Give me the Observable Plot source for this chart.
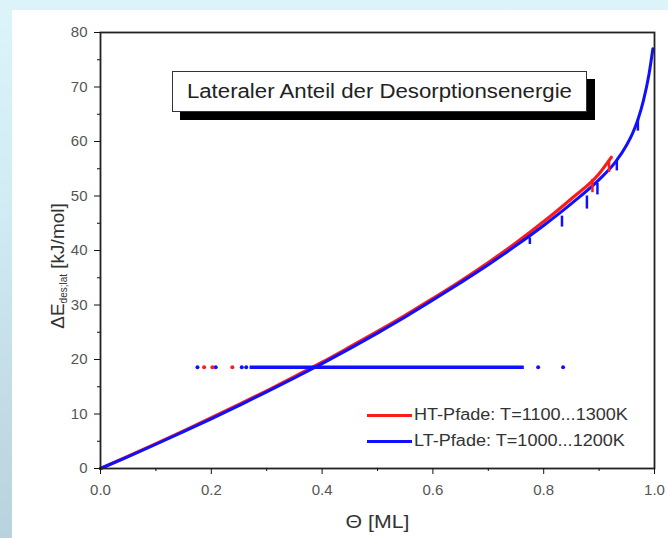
<!DOCTYPE html>
<html><head><meta charset="utf-8">
<script src="https://cdn.jsdelivr.net/npm/d3@7"></script>
<script src="https://cdn.jsdelivr.net/npm/@observablehq/plot@0.6"></script>
<style>
html,body{margin:0;padding:0;}
body{width:668px;height:538px;overflow:hidden;position:relative;
  background:linear-gradient(to bottom,#dcf4fa 0%,#d0ebf3 40%,#c2dbe5 75%,#b9d3de 100%);
  font-family:"Liberation Sans",Arial,Helvetica,sans-serif;}
#panel{position:absolute;left:12px;top:10px;width:656px;height:528px;background:#fff;}
#chart{position:absolute;left:0;top:0;}
#chart svg text{font-size:15px;}
.ov{position:absolute;white-space:nowrap;}
#title{left:172px;top:71px;width:415px;height:41px;box-sizing:border-box;border:1.5px solid #333;background:#fff;
  box-shadow:8px 8px 0 #000;text-align:center;line-height:38px;font-size:20px;color:#222;}
#title span{display:inline-block;transform:scaleX(1.11);}
.leg{left:367px;height:20px;display:flex;align-items:center;font-size:16px;color:#333;}
.leg .sw{width:45px;height:3px;margin-right:2px;}
.leg .tx{display:inline-block;transform:scaleX(1.13);transform-origin:left center;}
#ylab{left:-42px;top:254px;width:200px;height:24px;line-height:24px;text-align:center;font-size:19px;color:#333;transform:rotate(-90deg);}
#ylab sub{font-size:10px;vertical-align:-3px;}
#xlab{left:278px;top:510px;width:200px;text-align:center;font-size:19px;color:#333;line-height:24px;}
#xlab span{display:inline-block;transform:scaleX(1.12);}
</style></head>
<body>
<div id="panel"><div id="chart"></div></div>
<div class="ov" id="title"><span>Lateraler Anteil der Desorptionsenergie</span></div>
<div class="ov leg" style="top:405px"><div class="sw" style="background:#ff1a1a"></div><span class="tx">HT-Pfade: T=1100...1300K</span></div>
<div class="ov leg" style="top:431px"><div class="sw" style="background:#1010ff"></div><span class="tx">LT-Pfade: T=1000...1200K</span></div>
<div class="ov" id="ylab">ΔE<sub>des;lat</sub> [kJ/mol]</div>
<div class="ov" id="xlab"><span>Θ [ML]</span></div>
<script>
// HT paths (red)
const htTheta = [0, 0.05, 0.1, 0.15, 0.2, 0.25, 0.3, 0.35, 0.4, 0.45, 0.5, 0.55, 0.6, 0.65, 0.7, 0.75, 0.8, 0.85, 0.9, 0.922];
const htE     = [0, 2.25, 4.55, 6.9, 9.3, 11.75, 14.25, 16.85, 19.5, 22.3, 25.15, 28.1, 31.2, 34.4, 37.8, 41.4, 45.3, 49.5, 54.1, 57.1];
// LT paths (blue)
const ltTheta = [0, 0.05, 0.1, 0.15, 0.2, 0.25, 0.3, 0.35, 0.4, 0.45, 0.5, 0.55, 0.6, 0.65, 0.7, 0.75, 0.8, 0.85, 0.9, 0.93, 0.95, 0.96, 0.97, 0.98, 0.99, 0.997];
const ltE     = [0, 2.2, 4.45, 6.75, 9.1, 11.55, 14.05, 16.6, 19.25, 22.0, 24.85, 27.8, 30.9, 34.1, 37.4, 40.9, 44.6, 48.6, 53.0, 56.3, 59.4, 61.4, 64.0, 67.5, 72.3, 77.0];
// plateau
const plateauE = 18.6;
const ltPlateauStart = 0.27, ltPlateauEnd = 0.765;
const ltDotTheta = [0.175, 0.208, 0.255, 0.263, 0.79, 0.835];
const htDotTheta = [0.187, 0.202, 0.238];
// small spurs along curves
const ltHookTheta = [0.775, 0.833, 0.878, 0.897, 0.932, 0.97];
const ltHookTop   = [42.3, 46.3, 50.0, 52.3, 56.5, 64.0];
const ltHookBot   = [41.1, 44.3, 47.6, 50.2, 54.6, 61.9];
const htHookTheta = [0.888, 0.918];
const htHookTop   = [53.0, 56.6];
const htHookBot   = [50.6, 54.3];
// axes
const xTicks = [0, 0.2, 0.4, 0.6, 0.8, 1.0];
const xMinor = [0.1, 0.3, 0.5, 0.7, 0.9];
const yTicks = [0, 10, 20, 30, 40, 50, 60, 70, 80];
const yMinor = [5, 15, 25, 35, 45, 55, 65, 75];

const RED = "#ff1a1a", BLUE = "#1010ff";
const ht = htTheta.map((t, i) => ({t, e: htE[i]}));
const lt = ltTheta.map((t, i) => ({t, e: ltE[i]}));
const ltHooks = ltHookTheta.map((t, i) => ({t, top: ltHookTop[i], bot: ltHookBot[i]}));
const htHooks = htHookTheta.map((t, i) => ({t, top: htHookTop[i], bot: htHookBot[i]}));

const chart = Plot.plot({
  width: 656, height: 528,
  marginLeft: 88, marginRight: 14, marginTop: 22, marginBottom: 70,
  style: {fontFamily: "'Liberation Sans', Arial, sans-serif", fontSize: "15px", background: "transparent", overflow: "visible"},
  x: {domain: [0, 1]},
  y: {domain: [0, 80]},
  marks: [
    Plot.line(ht, {x: "t", y: "e", stroke: RED, strokeWidth: 3.2, curve: "monotone-x"}),
    Plot.line(lt, {x: "t", y: "e", stroke: BLUE, strokeWidth: 3, curve: "monotone-x"}),
    Plot.ruleY([{e: plateauE, x1: ltPlateauStart, x2: ltPlateauEnd}], {y: "e", x1: "x1", x2: "x2", stroke: BLUE, strokeWidth: 3.5}),
    Plot.dot(ltDotTheta.map(t => ({t, e: plateauE})), {x: "t", y: "e", r: 2, fill: BLUE, stroke: null}),
    Plot.dot(htDotTheta.map(t => ({t, e: plateauE})), {x: "t", y: "e", r: 2, fill: RED, stroke: null}),
    Plot.ruleX(htHooks, {x: "t", y1: "top", y2: "bot", stroke: RED, strokeWidth: 2.5}),
    Plot.ruleX(ltHooks, {x: "t", y1: "top", y2: "bot", stroke: BLUE, strokeWidth: 2.5}),
    Plot.frame({stroke: "#222", strokeWidth: 1.8}),
    Plot.axisY({ticks: yTicks, tickSize: 6, tickPadding: 7, label: null, fill: "#555", stroke: "#111", fontSize: 15}),
    Plot.axisY({ticks: yMinor, tickSize: 3, text: null, label: null, stroke: "#111"}),
    Plot.axisX({ticks: xTicks, tickSize: 6, tickPadding: 10, tickFormat: d3.format(".1f"), label: null, fill: "#555", stroke: "#111", fontSize: 15}),
    Plot.axisX({ticks: xMinor, tickSize: 3, text: null, label: null, stroke: "#111"})
  ]
});
document.getElementById("chart").appendChild(chart);
</script>
</body></html>
